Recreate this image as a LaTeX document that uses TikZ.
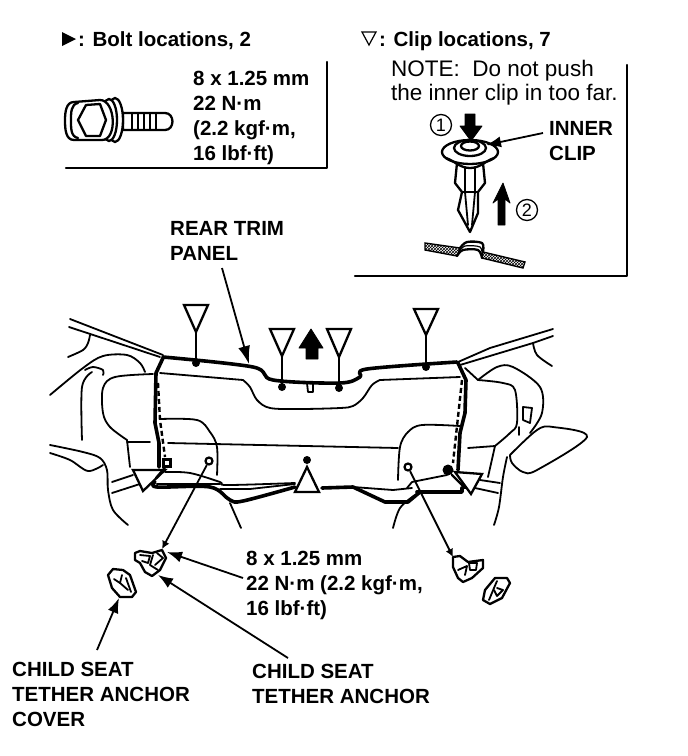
\documentclass[tikz,border=0pt]{standalone}
\usepackage{fontspec}
\setmainfont{Liberation Sans}
\usetikzlibrary{arrows.meta,patterns,shapes.geometric}
\tikzset{
  ln/.style={line width=1.8pt,line join=round,line cap=round},
  th/.style={line width=3.6pt,line join=round,line cap=round},
  med/.style={line width=2.3pt,line join=round,line cap=round},
  dsh/.style={line width=2.4pt,dash pattern=on 5pt off 3pt},
  sm/.style={smooth,tension=.55},
  mark tri/.style={line width=2.3pt,line join=miter,fill=white},
  lbl/.style={anchor=base west,inner sep=0pt,font=\fontsize{20.5}{24.7}\selectfont\bfseries,align=left},
  note/.style={anchor=base west,inner sep=0pt,font=\fontsize{22.5}{23.5}\selectfont,align=left},
  lead/.style={line width=1.8pt,-{Latex[length=15pt,width=11pt]}},
  blockarrow/.style={fill=black,draw=black,line width=.8pt,line join=round},
  hole/.style={circle,draw,line width=2.2pt,fill=white,minimum size=7pt,inner sep=0pt},
  dot/.style={circle,fill=black,minimum size=8pt,inner sep=0pt},
  num/.style={circle,draw,line width=1.3pt,minimum size=21pt,inner sep=0pt,font=\fontsize{18}{18}\selectfont}
}
\begin{document}
\begin{tikzpicture}[x=1pt,y=-1pt]
\fill[white] (0,0) rectangle (688,756);
\useasboundingbox (0,0) rectangle (688,756);

% headers
\fill (62,32) -- (76,39) -- (62,46) -- cycle;
\node[lbl] (bolthead) at (78,46) {: Bolt locations, 2};
\draw[line width=1.2pt] (362,32) -- (376,32) -- (369,45) -- cycle;
\node[lbl] (cliphead) at (379,46) {: Clip locations, 7};
\node[note] (note) at (391,100) {NOTE:\ \ Do not push\\the inner clip in too far.};

% frames
\draw[med] (66,168) -- (327,168) -- (327,62);
\draw[med] (355,276) -- (627,276) -- (627,65);

% bolt
\node[lbl] (boltspec) at (193,160) {8 x 1.25 mm\\22 N·m\\(2.2 kgf·m,\\16 lbf·ft)};
\draw[med,fill=white] (123,113) -- (165,113) to[out=0,in=0,looseness=1.5] (165,130) -- (123,130) -- cycle;
\foreach \x in {132,138,144,150,156} \draw[ln,line width=1.5pt] (\x,114) -- (\x,129);
\draw[med,fill=white] (115,120) ellipse (8 and 22);
\draw[med,fill=white] (109,120) ellipse (8 and 21);
\draw[med,fill=white] (74,102) -- (100,100) to[out=0,in=0,looseness=1] (102,140) -- (74,140) to[out=180,in=-90] (65,120) to[out=90,in=180] cycle;
\draw[med] (78,103) to[out=190,in=90] (71,120) to[out=-90,in=170] (78,138);
\draw[med] (86,105) -- (78,120) -- (86,136) -- (100,136) -- (106,120) -- (100,104) -- cycle;

% clip
\draw[med,fill=white] (457,163) -- (455,183) -- (462,192) -- (458,210) -- (470,232) -- (478,213) -- (478,192) -- (485,183) -- (483,163);
\draw[ln] (465,167) -- (465,192) -- (468,225);
\draw[ln] (475,167) -- (475,192) -- (472,225);
\draw[ln] (462,192) -- (478,192);
\draw[med,fill=white] (470,152) ellipse (28 and 12);
\draw[med] (446,158) to[out=-20,in=180] (470,168) to[out=0,in=200] (494,158);
\draw[med] (470,148) ellipse (16 and 8);
\draw[med] (470,146) ellipse (9 and 4.5);
\path[blockarrow] (465,114) -- (475,114) -- (475,126) -- (482,126) -- (471,141) -- (460,126) -- (465,126) -- cycle;
\path[blockarrow] (503,183) -- (510,203) -- (505,199) -- (505,225) -- (498,225) -- (498,199) -- (493,203) -- cycle;
\node[num] (n1) at (441,125) {1};
\node[num] (n2) at (527,210) {2};
\node[lbl] (innerclip) at (549,160) {INNER\\CLIP};
\coordinate (innertip) at (486,145);
\coordinate (innerstart) at (543,133);
\draw[lead] (innerstart) -- (innertip);
\draw[line width=1.4pt,pattern=crosshatch] (425,243) -- (460,248) -- (457,256) -- (425,250) -- cycle;
\draw[line width=1.4pt,pattern=crosshatch] (483,252) -- (525,262) -- (523,268) -- (482,258) -- cycle;
\draw[med] plot[sm] coordinates {(460,248) (467,242) (482,243) (483,252)};
\draw[med] plot[sm] coordinates {(457,256) (463,250) (478,250) (482,258)};
\draw[ln,line width=1.2pt] plot[sm] coordinates {(459,252) (465,246) (480,247) (482,255)};

% rear trim panel
\node[lbl] (reartrim) at (170,260) {REAR TRIM\\PANEL};
\coordinate (trimstart) at (222,268);
\coordinate (trimtip) at (249,364);
\draw[lead,-{Latex[length=18pt,width=12pt]}] (trimstart) -- (trimtip);

% car body, left
\draw[ln] (70,319) -- (163,355);
\draw[ln] (69,327) -- (160,357);
\draw[ln] plot[sm] coordinates {(90,335) (88,343) (83,350) (68,357)};
\draw[ln] plot[sm] coordinates {(50,395) (83,368) (103,356) (127,355) (140,363) (145,372)};
\draw[ln] plot[sm] coordinates {(82,440) (82,387) (92,372)};
\draw[ln] plot[sm] coordinates {(85,370) (93,367) (103,370) (103,375)};
\draw[ln] plot[sm] coordinates {(153,374) (115,377) (103,388) (103,413) (110,427) (127,440)};
\draw[ln] (127,440) -- (130,467);
\draw[ln] plot[sm] coordinates {(50,445) (83,452) (100,458) (107,470) (108,490) (113,510) (128,525)};
\draw[ln] plot[sm] coordinates {(50,453) (70,460) (88,471) (103,465)};
\draw[ln] (112,482) -- (133,475);
\draw[ln] (112,493) -- (143,483);

% panel
\draw[th] plot[sm] coordinates {(163,357) (253,367) (273,380) (340,383) (360,377) (367,369) (457,362)};
\draw[ln] (160,373) -- (243,380);
\draw[ln] plot[sm] coordinates {(243,380) (250,387) (257,400) (270,408) (300,409) (340,408) (353,406) (363,398) (372,385) (380,380)};
\draw[ln] (380,380) -- (460,377);
\draw[th] (163,358) -- (156,373) -- (155,423) -- (159,443) -- (159,467);
\draw[dsh] (158,383) -- (160,420) -- (165,457);
\draw[th] (458,363) -- (466,380) -- (465,413) -- (460,433) -- (458,470);
\draw[dsh] (462,380) -- (458,417) -- (453,463);
\draw[ln] plot[sm] coordinates {(160,419) (197,420) (210,432) (217,447) (217,475)};
\draw[ln] plot[sm] coordinates {(460,426) (422,425) (408,432) (400,447) (398,480)};
\draw[ln] (127,442) -- (150,442);
\draw[ln] (168,443) -- (398,448);
\draw[ln] (468,448) -- (495,446);
\draw[ln] (307,383) -- (308,392) -- (313,392) -- (313,383);

% shelf
\draw[th] plot[sm] coordinates {(155,482) (157,487) (210,487) (230,500) (243,501) (295,487)};
\draw[ln] plot[sm] coordinates {(165,472) (190,473) (220,482) (227,485) (295,483)};
\draw[ln] (220,489) -- (250,489) -- (295,484);
\draw[med] (157,484) -- (220,484);
\draw[ln] (230,503) -- (241,528);
\draw[th] (322,488) -- (353,487) -- (385,502) -- (408,502) -- (420,492);
\draw[ln] (353,487) -- (393,490) -- (412,488);
\draw[th] (417,492) -- (462,492) -- (462,488);
\draw[ln] (407,488) -- (412,482) -- (447,475);
\draw[ln] plot[sm] coordinates {(415,495) (400,508) (393,528)};

% car body, right
\draw[ln] (458,362) -- (490,348) -- (553,329);
\draw[ln] (460,365) -- (533,343) -- (553,336);
\draw[ln] plot[sm] coordinates {(533,343) (537,355) (552,366)};
\draw[ln] plot[sm] coordinates {(478,380) (497,367) (513,367) (540,387) (542,413) (530,433)};
\draw[ln] (465,368) -- (478,380);
\draw[ln] plot[sm] coordinates {(478,380) (503,383) (515,390) (517,423) (510,433) (495,446)};
\draw[ln] (495,446) -- (488,477);
\draw[ln] (523,407) -- (532,408) -- (530,423) -- (523,420) -- cycle;
\draw[ln] (519,427) -- (519,435);
\draw[ln] plot[sm] coordinates {(510,455) (537,430) (553,427) (587,437) (537,470) (523,472) (512,463) (510,455)};
\draw[ln] plot[sm] coordinates {(507,457) (503,477) (499,507) (494,525)};
\draw[ln] (480,480) -- (500,483);
\draw[ln] (475,488) -- (498,493);

% clip markers
\foreach \n/\x/\ya/\yb/\yc in {a/196/305/332/363, b/282/329/356/387, c/339/329/357/388, d/426/309/335/367}{
  \draw[ln] (\x,\yb) -- (\x,\yc);
  \draw[mark tri] (\x-12,\ya) -- (\x+12,\ya) -- (\x,\yb) -- cycle;
  \node[dot,minimum size=8pt] (clip\n) at (\x,\yc) {};
}
\path[blockarrow] (311,329) -- (323,348) -- (318,348) -- (318,359) -- (306,359) -- (306,348) -- (299,348) -- cycle;

% bolt markers
\draw[mark tri] (307,467) -- (319,492) -- (295,492) -- cycle;
\node[dot] (centerbolt) at (307,460) {};
\draw[mark tri] (133,470) -- (165,470) -- (143,491) -- cycle;
\draw[med] (156,478) -- (168,464);
\node[draw,fill=white,line width=2.6pt,minimum size=7pt,inner sep=0pt] (leftbolt) at (167,463) {};
\draw[mark tri] (455,472) -- (482,474) -- (471,494) -- cycle;
\draw[med] (452,475) -- (465,488);
\node[dot,minimum size=11pt] (rightbolt) at (448,470) {};

% anchors
\node[hole] (lefthole) at (209,461) {};
\node[hole] (righthole) at (408,467) {};
\draw[med] (135,553) -- (140,551) -- (152,553) -- (162,550) -- (166,558) -- (160,570) -- (152,576) -- (145,572) -- (140,563) -- (135,560) -- cycle;
\draw[ln] (140,555) -- (150,556) -- (148,563) -- (142,561);
\draw[ln] (153,555) -- (150,565) -- (158,570);
\draw[ln] (157,553) -- (163,558) -- (155,565);
\coordinate (leftanchor) at (162,549);
\draw[line width=1.8pt,-{Latex[length=8pt,width=8pt]}] (lefthole) -- (leftanchor);
\draw[med] (108,575) -- (113,569) -- (123,570) -- (130,575) -- (136,592) -- (132,597) -- (120,597) -- (112,588) -- cycle;
\draw[ln] (114,579) -- (120,583) -- (122,575);
\draw[ln] (120,583) -- (128,590);
\draw[ln] (126,578) -- (131,592);
\draw[med] (453,557) -- (460,556) -- (468,562) -- (483,560) -- (483,568) -- (472,578) -- (463,582) -- (458,578) -- (453,567) -- cycle;
\draw[ln] (469,563) -- (477,563) -- (476,570) -- (470,570) -- cycle;
\draw[ln] (458,570) -- (467,566) -- (465,575);
\coordinate (rightanchor) at (453,557);
\draw[line width=1.8pt,-{Latex[length=8pt,width=8pt]}] (righthole) -- (rightanchor);
\draw[med] (495,578) -- (507,578) -- (510,583) -- (502,598) -- (490,604) -- (483,600) -- (485,590) -- cycle;
\draw[ln] (489,600) -- (494,588) -- (497,581);
\draw[ln] (497,588) -- (503,590) -- (497,596) -- (494,590);

% lower labels
\node[lbl] (torque) at (246,615) {8 x 1.25 mm\\22 N·m (2.2 kgf·m,\\16 lbf·ft)};
\coordinate (torquestart) at (243,578);
\coordinate (torquetip) at (167,552);
\draw[lead] (torquestart) -- (torquetip);
\node[lbl] (anchorlabel) at (252,703) {CHILD SEAT\\TETHER ANCHOR};
\coordinate (anchorstart) at (288,658);
\coordinate (anchortip) at (158,575);
\draw[lead] (anchorstart) -- (anchortip);
\node[lbl] (coverlabel) at (12,726) {CHILD SEAT\\TETHER ANCHOR\\COVER};
\coordinate (coverstart) at (97,650);
\coordinate (covertip) at (119,598);
\draw[lead] (coverstart) -- (covertip);
\end{tikzpicture}
\end{document}
